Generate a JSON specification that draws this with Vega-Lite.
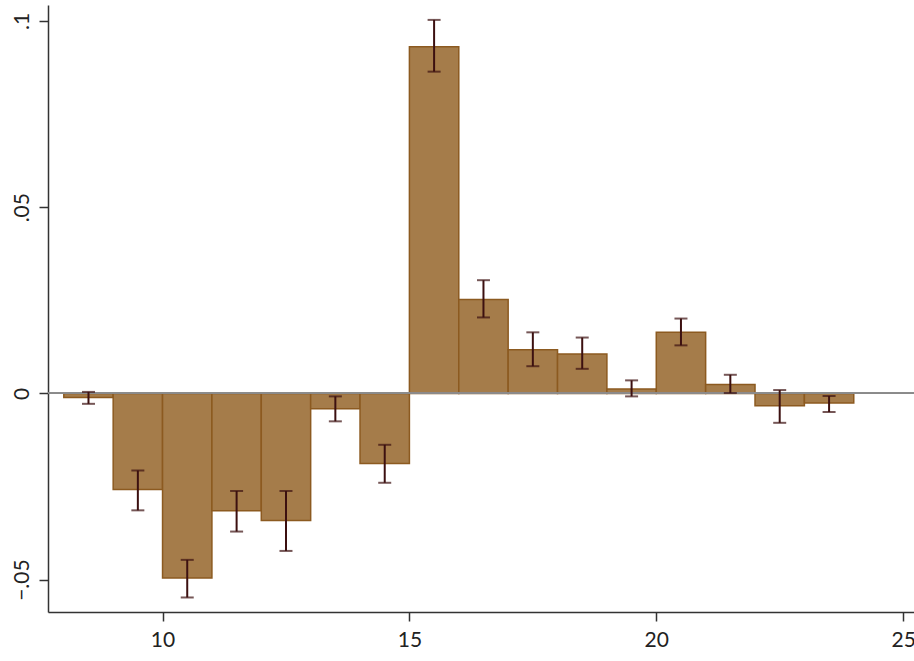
{
  "$schema": "https://vega.github.io/schema/vega-lite/v6.json",
  "width": 866,
  "height": 607,
  "autosize": "none",
  "padding": {"left": 48, "top": 5, "right": 0, "bottom": 49},
  "background": "white",
  "config": {
    "view": {"stroke": null},
    "axis": {
      "labelFont": "Lato",
      "labelFontSize": 21,
      "labelColor": "#222",
      "domainColor": "#333",
      "domainWidth": 1.5,
      "tickColor": "#333",
      "tickWidth": 1.5,
      "tickSize": 9,
      "grid": false,
      "title": null
    }
  },
  "data": {
    "values": [
      {"x0": 8, "x1": 9, "xm": 8.5, "v": -0.0011, "lo": -0.0028, "hi": 0.0004},
      {"x0": 9, "x1": 10, "xm": 9.5, "v": -0.0258, "lo": -0.0314, "hi": -0.0207},
      {"x0": 10, "x1": 11, "xm": 10.5, "v": -0.0496, "lo": -0.0548, "hi": -0.0447},
      {"x0": 11, "x1": 12, "xm": 11.5, "v": -0.0315, "lo": -0.0371, "hi": -0.0262},
      {"x0": 12, "x1": 13, "xm": 12.5, "v": -0.0341, "lo": -0.0423, "hi": -0.0262},
      {"x0": 13, "x1": 14, "xm": 13.5, "v": -0.0041, "lo": -0.0075, "hi": -0.0008},
      {"x0": 14, "x1": 15, "xm": 14.5, "v": -0.0188, "lo": -0.0240, "hi": -0.0138},
      {"x0": 15, "x1": 16, "xm": 15.5, "v": 0.0931, "lo": 0.0864, "hi": 0.1003},
      {"x0": 16, "x1": 17, "xm": 16.5, "v": 0.0252, "lo": 0.0204, "hi": 0.0304},
      {"x0": 17, "x1": 18, "xm": 17.5, "v": 0.0117, "lo": 0.0073, "hi": 0.0164},
      {"x0": 18, "x1": 19, "xm": 18.5, "v": 0.0106, "lo": 0.0066, "hi": 0.0150},
      {"x0": 19, "x1": 20, "xm": 19.5, "v": 0.0012, "lo": -0.0008, "hi": 0.0035},
      {"x0": 20, "x1": 21, "xm": 20.5, "v": 0.0164, "lo": 0.0129, "hi": 0.0201},
      {"x0": 21, "x1": 22, "xm": 21.5, "v": 0.0024, "lo": 0.0001, "hi": 0.0050},
      {"x0": 22, "x1": 23, "xm": 22.5, "v": -0.0033, "lo": -0.0079, "hi": 0.0009},
      {"x0": 23, "x1": 24, "xm": 23.5, "v": -0.0026, "lo": -0.0050, "hi": -0.0007}
    ]
  },
  "layer": [
    {
      "mark": {"type": "bar", "fill": "#a57c4a", "stroke": "#8c5a20", "strokeWidth": 1.5},
      "encoding": {
        "x": {
          "field": "x0", "type": "quantitative",
          "scale": {"domain": [7.68, 25.22], "nice": false, "zero": false},
          "axis": {"values": [10, 15, 20, 25], "labelPadding": 8, "labelFlush": false}
        },
        "x2": {"field": "x1"},
        "y": {
          "field": "v", "type": "quantitative",
          "scale": {"domain": [-0.0587, 0.1043], "nice": false, "zero": false},
          "axis": {"values": [-0.05, 0, 0.05, 0.1], "labelAngle": -90, "labelAlign": "center", "labelBaseline": "bottom", "labelPadding": 7,
            "labelExpr": "datum.value == 0 ? '0' : replace(format(datum.value, '.2~f'), '0.', '.')"}
        },
        "y2": {"datum": 0}
      }
    },
    {
      "mark": {"type": "rule", "color": "#8a8a8a", "strokeWidth": 1.2},
      "encoding": {"y": {"datum": 0}}
    },
    {
      "mark": {"type": "rule", "color": "#3c1010", "strokeWidth": 2},
      "encoding": {
        "x": {"field": "xm", "type": "quantitative"},
        "y": {"field": "lo", "type": "quantitative"},
        "y2": {"field": "hi"}
      }
    },
    {
      "mark": {"type": "tick", "color": "#3c1010", "orient": "horizontal", "size": 13, "thickness": 2},
      "encoding": {
        "x": {"field": "xm", "type": "quantitative"},
        "y": {"field": "lo", "type": "quantitative"}
      }
    },
    {
      "mark": {"type": "tick", "color": "#3c1010", "orient": "horizontal", "size": 13, "thickness": 2},
      "encoding": {
        "x": {"field": "xm", "type": "quantitative"},
        "y": {"field": "hi", "type": "quantitative"}
      }
    }
  ]
}
